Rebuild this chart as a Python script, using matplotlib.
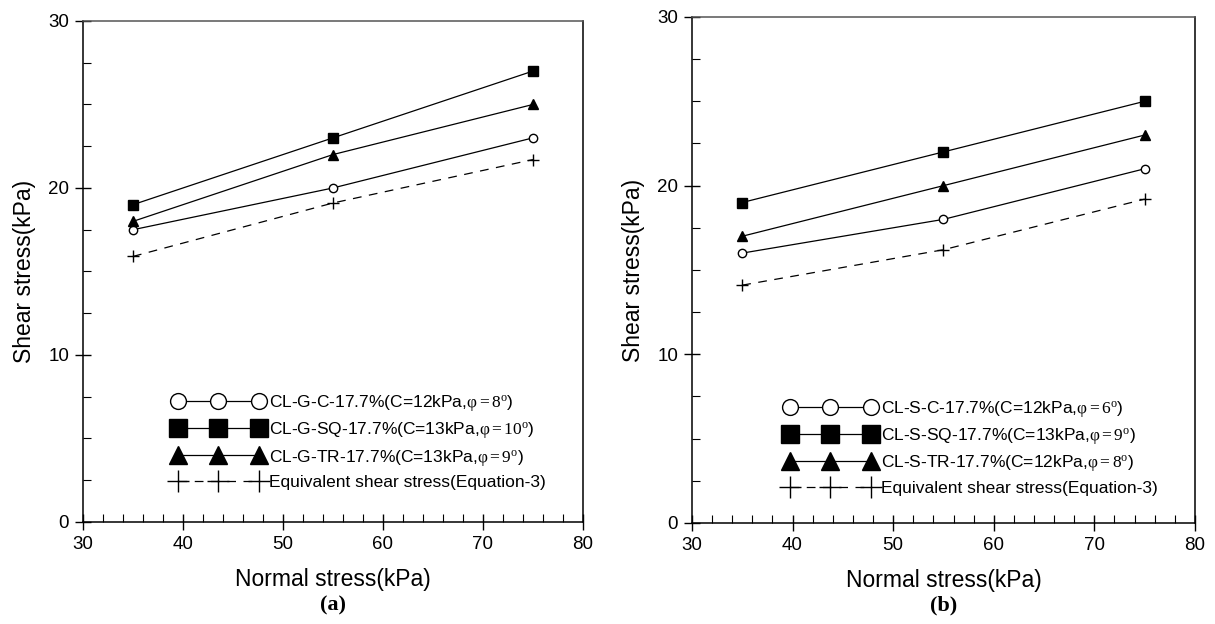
import matplotlib
matplotlib.use("Agg")
import matplotlib.pyplot as plt
from matplotlib.ticker import MultipleLocator

plt.rcParams['font.family'] = ['Liberation Sans', 'DejaVu Sans']
plt.rcParams['mathtext.fontset'] = 'custom'
plt.rcParams['mathtext.rm'] = 'Liberation Serif'
plt.rcParams['mathtext.it'] = 'Liberation Serif:italic'

normal_stress = [35, 55, 75]

# Panel (a)
a_labels = ["CL-G-C-17.7%(C=12kPa,$\\mathrm{\\varphi=8^{o}}$)",
            "CL-G-SQ-17.7%(C=13kPa,$\\mathrm{\\varphi=10^{o}}$)",
            "CL-G-TR-17.7%(C=13kPa,$\\mathrm{\\varphi=9^{o}}$)",
            "Equivalent shear stress(Equation-3)"]
a_C = [17.5, 20.0, 23.0]
a_SQ = [19.0, 23.0, 27.0]
a_TR = [18.0, 22.0, 25.0]
a_EQ = [15.9, 19.1, 21.7]

# Panel (b)
b_labels = ["CL-S-C-17.7%(C=12kPa,$\\mathrm{\\varphi=6^{o}}$)",
            "CL-S-SQ-17.7%(C=13kPa,$\\mathrm{\\varphi=9^{o}}$)",
            "CL-S-TR-17.7%(C=12kPa,$\\mathrm{\\varphi=8^{o}}$)",
            "Equivalent shear stress(Equation-3)"]
b_C = [16.0, 18.0, 21.0]
b_SQ = [19.0, 22.0, 25.0]
b_TR = [17.0, 20.0, 23.0]
b_EQ = [14.1, 16.2, 19.2]

x_ticks = [30, 40, 50, 60, 70, 80]
y_ticks = [0, 10, 20, 30]

fig = plt.figure(figsize=(12.15, 6.24), dpi=100)
ax1 = fig.add_axes([0.0683, 0.1635, 0.4115, 0.8029])
ax2 = fig.add_axes([0.5695, 0.1619, 0.414, 0.8109])

def draw(ax, C, SQ, TR, EQ, labels, leg_anchor, tag):
    lw = 0.9
    ax.plot(normal_stress, C, '-', color='black', lw=lw, marker='o', ms=6,
            mfc='white', mec='black', mew=1.0, label=labels[0])
    ax.plot(normal_stress, SQ, '-', color='black', lw=lw, marker='s', ms=7,
            mfc='black', mec='black', label=labels[1])
    ax.plot(normal_stress, TR, '-', color='black', lw=lw, marker='^', ms=7,
            mfc='black', mec='black', label=labels[2])
    ax.plot(normal_stress, EQ, '--', color='black', lw=lw, marker='+', ms=8,
            mew=1.0, dashes=(7, 6), label=labels[3])
    ax.set_xlim(30, 80)
    ax.set_ylim(0, 30)
    ax.set_xticks(x_ticks)
    ax.set_yticks(y_ticks)
    ax.xaxis.set_minor_locator(MultipleLocator(2))
    ax.yaxis.set_minor_locator(MultipleLocator(2.5))
    ax.tick_params(which='major', direction='inout', length=12, width=1.0,
                   labelsize=13.5, pad=4)
    ax.tick_params(which='minor', direction='in', length=6, width=0.8)
    ax.tick_params(axis='x', which='both', top=False)
    ax.tick_params(axis='y', which='both', right=False)
    for s in ax.spines.values():
        s.set_linewidth(1.1)
    ax.spines['top'].set_color('#555555')
    ax.set_xlabel("Normal stress(kPa)", fontsize=16.5, labelpad=11)
    ax.set_ylabel("Shear stress(kPa)", fontsize=16.5, labelpad=9)
    ax.legend(loc='lower left', bbox_to_anchor=leg_anchor, frameon=False,
              numpoints=3, markerscale=1.9, handlelength=5.3,
              handletextpad=0.25, labelspacing=0.42, fontsize=12.5,
              borderaxespad=0)
    bb = ax.get_position()
    fig.text((bb.x0 + bb.x1) / 2, 0.030, tag, ha='center', va='center',
             fontsize=16, fontweight='bold', family='Liberation Serif')

draw(ax1, a_C, a_SQ, a_TR, a_EQ, a_labels, (0.165, 0.05), "(a)")
draw(ax2, b_C, b_SQ, b_TR, b_EQ, b_labels, (0.17, 0.04), "(b)")

fig.savefig("out.png", dpi=100)
